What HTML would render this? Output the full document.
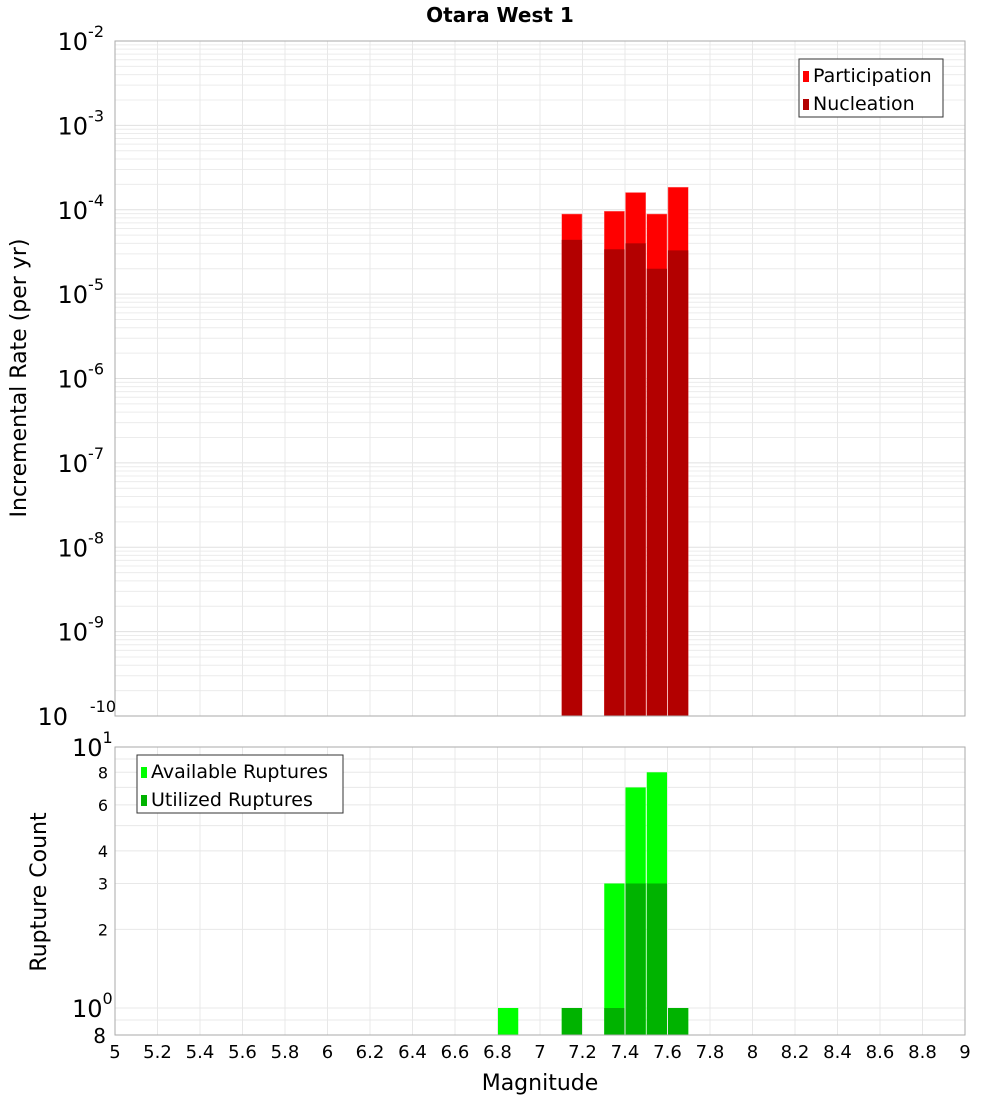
<!DOCTYPE html>
<html><head><meta charset="utf-8"><style>
body{margin:0;background:#fff}
svg text{font-family:"DejaVu Sans","Liberation Sans",sans-serif;fill:#000}
</style></head><body>
<svg id="c" width="1000" height="1100" xmlns="http://www.w3.org/2000/svg">
<text x="500" y="22" font-size="20" font-weight="bold" text-anchor="middle">Otara West 1</text>
<text transform="translate(26,378) rotate(-90)" font-size="22" text-anchor="middle">Incremental Rate (per yr)</text>
<text transform="translate(46,892) rotate(-90)" font-size="22" text-anchor="middle">Rupture Count</text>
<text x="540" y="1090" font-size="22" text-anchor="middle">Magnitude</text>
<g id="g"></g>
</svg>
<script>
const magCenters=[7.15,7.35,7.45,7.55,7.65];
const participation=[8.9e-5,9.6e-5,1.6e-4,8.9e-5,1.85e-4];
const nucleation=[4.4e-5,3.4e-5,4.0e-5,2.0e-5,3.3e-5];
const countMags=[6.85,7.15,7.35,7.45,7.55,7.65];
const available=[1,1,3,7,8,1];
const utilized=[0,1,1,3,3,1];
const xTicks=["5","5.2","5.4","5.6","5.8","6","6.2","6.4","6.6","6.8","7","7.2","7.4","7.6","7.8","8","8.2","8.4","8.6","8.8","9"];
const topExps=[-2,-3,-4,-5,-6,-7,-8,-9,-10];
const botTicks=[8,6,4,3,2];

const NS="http://www.w3.org/2000/svg";
const g=document.getElementById('g');
function el(t,a,p){const e=document.createElementNS(NS,t);for(const k in a)e.setAttribute(k,a[k]);(p||g).appendChild(e);return e;}
const X0=115,X1=965;
const x=m=>X0+(m-5)*(X1-X0)/4;
const T0=41,T1=716;
const yT=v=>T0+(-2-Math.log10(v))*(T1-T0)/8;
const B0=747,B1=1035;
const yB=v=>1008-Math.log10(v)*261;

// top panel grid
for(let e=-10;e<-2;e++){for(let k=1;k<10;k++){const y=yT(k*Math.pow(10,e));
const l=el('line',{x1:X0,x2:X1,y1:y,y2:y,stroke:k==1?'#e0e0e0':'#ececec','stroke-width':1});
}}
for(let i=0;i<=20;i++){const xx=x(5+i*0.2);
const l=el('line',{x1:xx,x2:xx,y1:T0,y2:T1,stroke:'#e8e8e8'});
const l2=el('line',{x1:xx,x2:xx,y1:B0,y2:B1,stroke:'#e8e8e8'});}
// bottom grid
[0.9,1,2,3,4,5,6,7,8,9].forEach(v=>{const y=yB(v);const l=el('line',{x1:X0,x2:X1,y1:y,y2:y,stroke:'#e8e8e8'});});

// top bars
const bw=(X1-X0)/40;
magCenters.forEach((m,i)=>{
 const r=el('rect',{x:x(m)-bw/2+0.5,y:yT(participation[i]),width:bw-1,height:T1-yT(participation[i]),fill:'#ff0000',stroke:'#ff8080','stroke-width':0.5});
 
 const n=el('rect',{x:x(m)-bw/2+0.5,y:yT(nucleation[i]),width:bw-1,height:T1-yT(nucleation[i]),fill:'#b30000'});
 
});
// bottom bars
countMags.forEach((m,i)=>{
 const a=el('rect',{x:x(m)-bw/2+0.5,y:yB(available[i]),width:bw-1,height:B1-yB(available[i]),fill:'#00ff00'});
 
 if(utilized[i]>0){const u=el('rect',{x:x(m)-bw/2+0.5,y:yB(utilized[i]),width:bw-1,height:B1-yB(utilized[i]),fill:'#00b300'});
 }
});

// frames
let f=el('rect',{x:X0,y:T0,width:X1-X0,height:T1-T0,fill:'none',stroke:'#aaa'});
f=el('rect',{x:X0,y:B0,width:X1-X0,height:B1-B0,fill:'none',stroke:'#aaa'});

// top y labels
topExps.forEach(e=>{const y=yT(Math.pow(10,e));
 const t=el('text',{x:104,y:y+9,'font-size':24,'text-anchor':'end'});
 t.textContent='10';const s=el('tspan',{dy:-13,'font-size':16},t);s.textContent=String(e);
 if(e===-10){t.setAttribute('x',68);s.setAttribute('x',116);s.setAttribute('text-anchor','end');}
});
// bottom y labels
let t=el('text',{x:72,y:756,'font-size':24});t.textContent='10';
let s=el('tspan',{dy:-13,'font-size':16},t);s.textContent='1';
t=el('text',{x:72,y:1017,'font-size':24});t.textContent='10';
s=el('tspan',{dy:-13,'font-size':16},t);s.textContent='0';
botTicks.forEach(v=>{const tt=el('text',{x:108,y:yB(v)+6,'font-size':16,'text-anchor':'end',fill:'#333'});tt.textContent=String(v);});
t=el('text',{x:106,y:1043,'font-size':20,'text-anchor':'end'});t.textContent='8';
// x labels
xTicks.forEach(v=>{const tt=el('text',{x:x(parseFloat(v)),y:1058,'font-size':18,'text-anchor':'middle'});tt.textContent=v;});

// legends
function legend(x0,y0,w,items,name){const lg=el('g',{});
 el('rect',{x:x0,y:y0,width:w,height:58,fill:'#fff',stroke:'#333'},lg);
 items.forEach((it,i)=>{const sw=el('rect',{x:x0+4,y:y0+12+i*28,width:6,height:11,fill:it[1]},lg);
  const tx=el('text',{x:x0+14,y:y0+23+i*28,'font-size':19},lg);tx.textContent=it[0];});}
legend(799,59,144,[["Participation","#ff0000"],["Nucleation","#b30000"]],'top-legend');
legend(137,755,206,[["Available Ruptures","#00ff00"],["Utilized Ruptures","#00b300"]],'bottom-legend');
</script>
</body></html>
